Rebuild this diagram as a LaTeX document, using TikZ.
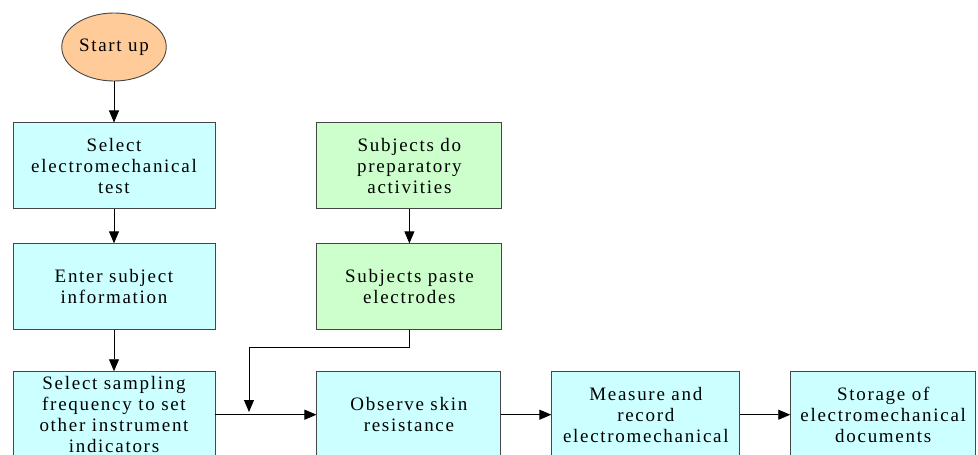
\documentclass[tikz,border=0pt]{standalone}
\usepackage{fontspec}
\setmainfont{Liberation Serif}[LetterSpace=9]
\usepackage{xcolor}
\usepackage{tikz}
\usetikzlibrary{arrows.meta,positioning,shapes.geometric}

\definecolor{startfill}{RGB}{255,204,153}
\definecolor{procfill}{RGB}{204,255,255}
\definecolor{prepfill}{RGB}{204,255,204}
\definecolor{edgegray}{RGB}{70,70,70}

\begin{document}
\begin{tikzpicture}[x=1pt, y=-1pt, line width=0.9pt,
  every node/.style={draw=edgegray, align=center, font=\fontsize{19}{21}\selectfont, inner sep=2pt},
  startnode/.style={ellipse, fill=startfill, minimum width=102pt, minimum height=68pt},
  proc/.style={rectangle, fill=procfill, minimum width=202pt, minimum height=86pt},
  prep/.style={rectangle, fill=prepfill, minimum width=185pt, minimum height=86pt},
  >={Triangle[length=12pt,width=10pt]}]
\useasboundingbox (0,0) rectangle (978,455);
\clip (0,0) rectangle (978,455);
\node[startnode] (start) at (114,47) {Start up};
\node[proc, below=41pt of start] (sel) {Select\\electromechanical\\test};
\node[proc, below=34pt of sel] (enter) {Enter subject\\information};
\node[proc, below=41pt of enter] (samp) {Select sampling\\frequency to set\\other instrument\\indicators};
\node[prep, right=101pt of sel] (act) {Subjects do\\preparatory\\activities};
\node[prep, below=34pt of act] (paste) {Subjects paste\\electrodes};
\node[proc, right=101pt of samp, minimum width=184pt] (obs) {Observe skin\\resistance};
\node[proc, right=50pt of obs, minimum width=188pt] (meas) {Measure and\\record\\electromechanical};
\node[proc, right=50pt of meas, minimum width=185pt] (stor) {Storage of\\electromechanical\\documents};
\coordinate (join) at (249,412);
\draw[->] (start) -- (sel);
\draw[->] (sel) -- (enter);
\draw[->] (enter) -- (samp);
\draw[->] (act) -- (paste);
\draw[->] (paste.south) -- ++(0,17) -| (join);
\draw[->] (samp) -- (obs);
\draw[->] (obs) -- (meas);
\draw[->] (meas) -- (stor);
\end{tikzpicture}
\end{document}
